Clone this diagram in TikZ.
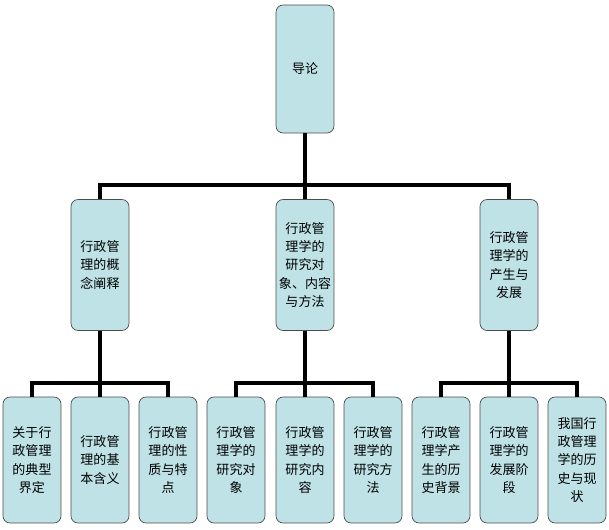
\documentclass[tikz,border=0pt]{standalone}
\usepackage{fontspec}
\newfontfamily\cjk{Noto Sans CJK SC}
\definecolor{boxfill}{RGB}{190,226,230}

\begin{document}
\begin{tikzpicture}[
    x=0.02cm, y=-0.02cm,
    every node/.style={draw=black!70, fill=boxfill, rounded corners=4pt, align=center,
        font=\cjk\fontsize{7.4pt}{10.5pt}\selectfont, minimum width=1.16cm, inner sep=1pt},
    top/.style={minimum height=2.56cm},
    mid/.style={minimum height=2.62cm},
    leaf/.style={minimum height=2.52cm},
    link/.style={line width=2.2pt}
]
\useasboundingbox (0,0) rectangle (609,530);

% Nodes
\node[top] (intro) at (305,69) {导论};
\node[mid] (concept) at (100,265) {行政管\\理的概\\念阐释};
\node[mid] (object) at (305,265) {行政管\\理学的\\研究对\\象、内容\\与方法};
\node[mid] (history) at (509,265) {行政管\\理学的\\产生与\\发展};

\node[leaf] (c1) at (32,460) {关于行\\政管理\\的典型\\界定};
\node[leaf] (c2) at (100,460) {行政管\\理的基\\本含义};
\node[leaf] (c3) at (168,460) {行政管\\理的性\\质与特\\点};
\node[leaf] (o1) at (236,460) {行政管\\理学的\\研究对\\象};
\node[leaf] (o2) at (305,460) {行政管\\理学的\\研究内\\容};
\node[leaf] (o3) at (373,460) {行政管\\理学的\\研究方\\法};
\node[leaf] (h1) at (441,460) {行政管\\理学产\\生的历\\史背景};
\node[leaf] (h2) at (509,460) {行政管\\理学的\\发展阶\\段};
\node[leaf] (h3) at (577,460) {我国行\\政管理\\学的历\\史与现\\状};

% Junctions
\coordinate (j0) at (305,185);
\coordinate (j1) at (100,383);
\coordinate (j2) at (305,383);
\coordinate (j3) at (509,383);

% Connectors
\draw[link] (intro) -- (j0);
\foreach \n in {concept, object, history} \draw[link] (j0) -| (\n);
\draw[link] (concept) -- (j1);
\foreach \n in {c1, c2, c3} \draw[link] (j1) -| (\n);
\draw[link] (object) -- (j2);
\foreach \n in {o1, o2, o3} \draw[link] (j2) -| (\n);
\draw[link] (history) -- (j3);
\foreach \n in {h1, h2, h3} \draw[link] (j3) -| (\n);

\end{tikzpicture}
\end{document}
